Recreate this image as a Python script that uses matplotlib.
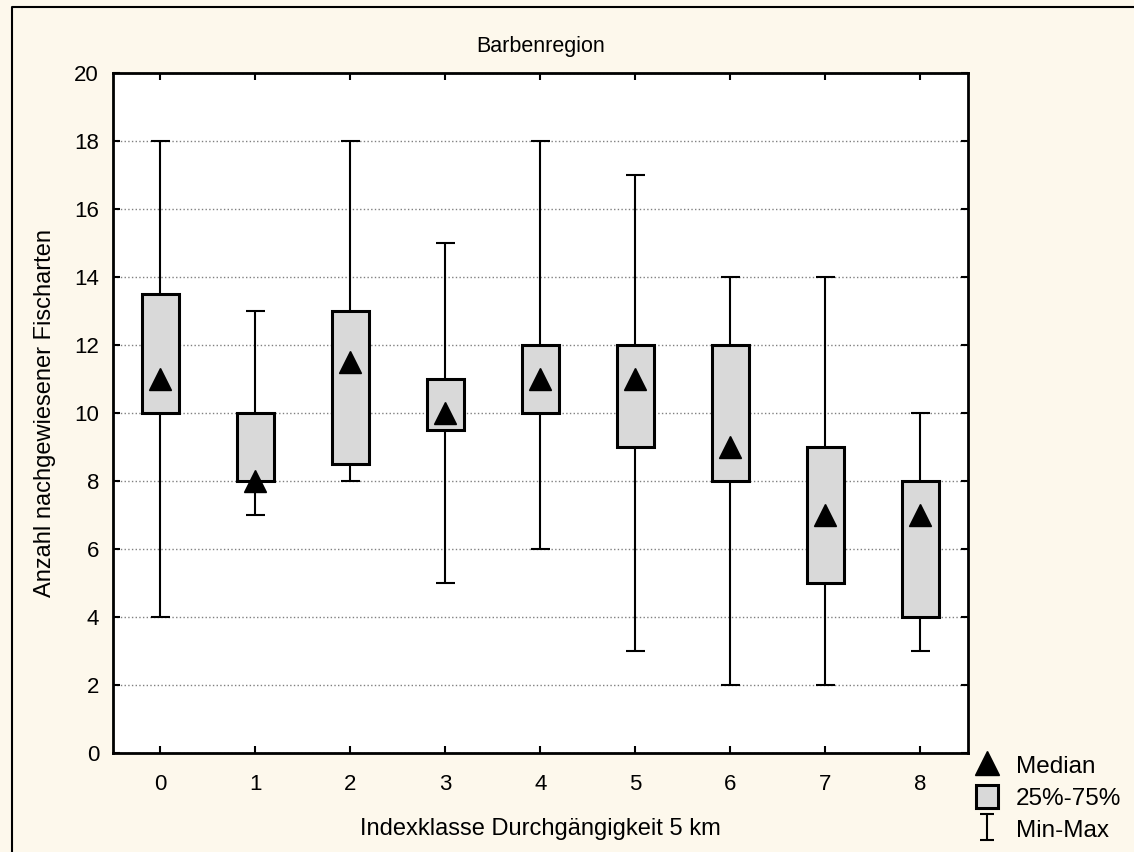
import matplotlib
matplotlib.use("Agg")
import matplotlib.pyplot as plt
import numpy as np
from matplotlib.lines import Line2D
from matplotlib.patches import Patch
from matplotlib.path import Path

plt.rcParams["font.family"] = ["Liberation Sans", "DejaVu Sans"]

classes = [0, 1, 2, 3, 4, 5, 6, 7, 8]
medians = [11, 8, 11.5, 10, 11, 11, 9, 7, 7]
q25 = [10, 8, 8.5, 9.5, 10, 9, 8, 5, 4]
q75 = [13.5, 10, 13, 11, 12, 12, 12, 9, 8]
mins = [4, 7, 8, 5, 6, 3, 2, 2, 3]
maxs = [18, 13, 18, 15, 18, 17, 14, 14, 10]

BG = "#FDF8EC"
BOX = "#D9D9D9"

fig = plt.figure(figsize=(11.34, 8.52), dpi=100, facecolor=BG)
ax = fig.add_axes([0.0996, 0.1162, 0.7540, 0.7981])
ax.set_facecolor("white")

x = np.array(classes)
box_w = 0.39
cap_w = 0.2

# whiskers + caps
ax.vlines(x, mins, q25, color="black", lw=1.5, zorder=2)
ax.vlines(x, q75, maxs, color="black", lw=1.5, zorder=2)
ax.hlines(mins, x - cap_w / 2, x + cap_w / 2, color="black", lw=1.5, zorder=2)
ax.hlines(maxs, x - cap_w / 2, x + cap_w / 2, color="black", lw=1.5, zorder=2)

# boxes
ax.bar(x, np.array(q75) - np.array(q25), bottom=q25, width=box_w,
       color=BOX, edgecolor="black", linewidth=2.2, zorder=3)

# medians
ax.plot(x, medians, "^", color="black", markersize=16, zorder=4, linestyle="none")

ax.set_xlim(-0.5, 8.5)
ax.set_ylim(0, 20)
ax.set_xticks(classes)
ax.set_yticks(np.arange(0, 21, 2))
ax.tick_params(direction="in", top=True, right=True, labelsize=16,
               length=5, width=1.5, pad=10)
ax.tick_params(axis="x", pad=15)
ax.yaxis.grid(True, linestyle=":", color="#808080", linewidth=1.0)
ax.set_axisbelow(True)
for s in ax.spines.values():
    s.set_linewidth(2.0)

ax.set_title("Barbenregion", fontsize=15.5, pad=15)
ax.set_xlabel("Indexklasse Durchgängigkeit 5 km", fontsize=17, labelpad=17)
ax.set_ylabel("Anzahl nachgewiesener Fischarten", fontsize=17, labelpad=13)

# legend
ibar = Path([(-0.5, 1), (0.5, 1), (0, 1), (0, -1), (-0.5, -1), (0.5, -1)],
            [Path.MOVETO, Path.LINETO, Path.MOVETO, Path.LINETO, Path.MOVETO, Path.LINETO])
handles = [
    Line2D([], [], marker="^", color="black", linestyle="none", markersize=17),
    Patch(facecolor=BOX, edgecolor="black", linewidth=2.2),
    Line2D([], [], marker=ibar, color="black", linestyle="none", markersize=19,
           markeredgewidth=1.5),
]
leg = fig.legend(handles, ["Median", "25%-75%", "Min-Max"], loc="lower left",
                 bbox_to_anchor=(0.852, 0.0), frameon=False, fontsize=17.5,
                 handlelength=0.9, handleheight=1.1, handletextpad=0.75,
                 labelspacing=0.3, borderaxespad=0.0)

# outer frame
fig.add_artist(Line2D([12 / 1134, 12 / 1134, 1.0], [0.0, 1 - 7 / 852, 1 - 7 / 852],
                      color="black", lw=1.5, transform=fig.transFigure))

fig.savefig("out.png", dpi=100, facecolor=BG)
